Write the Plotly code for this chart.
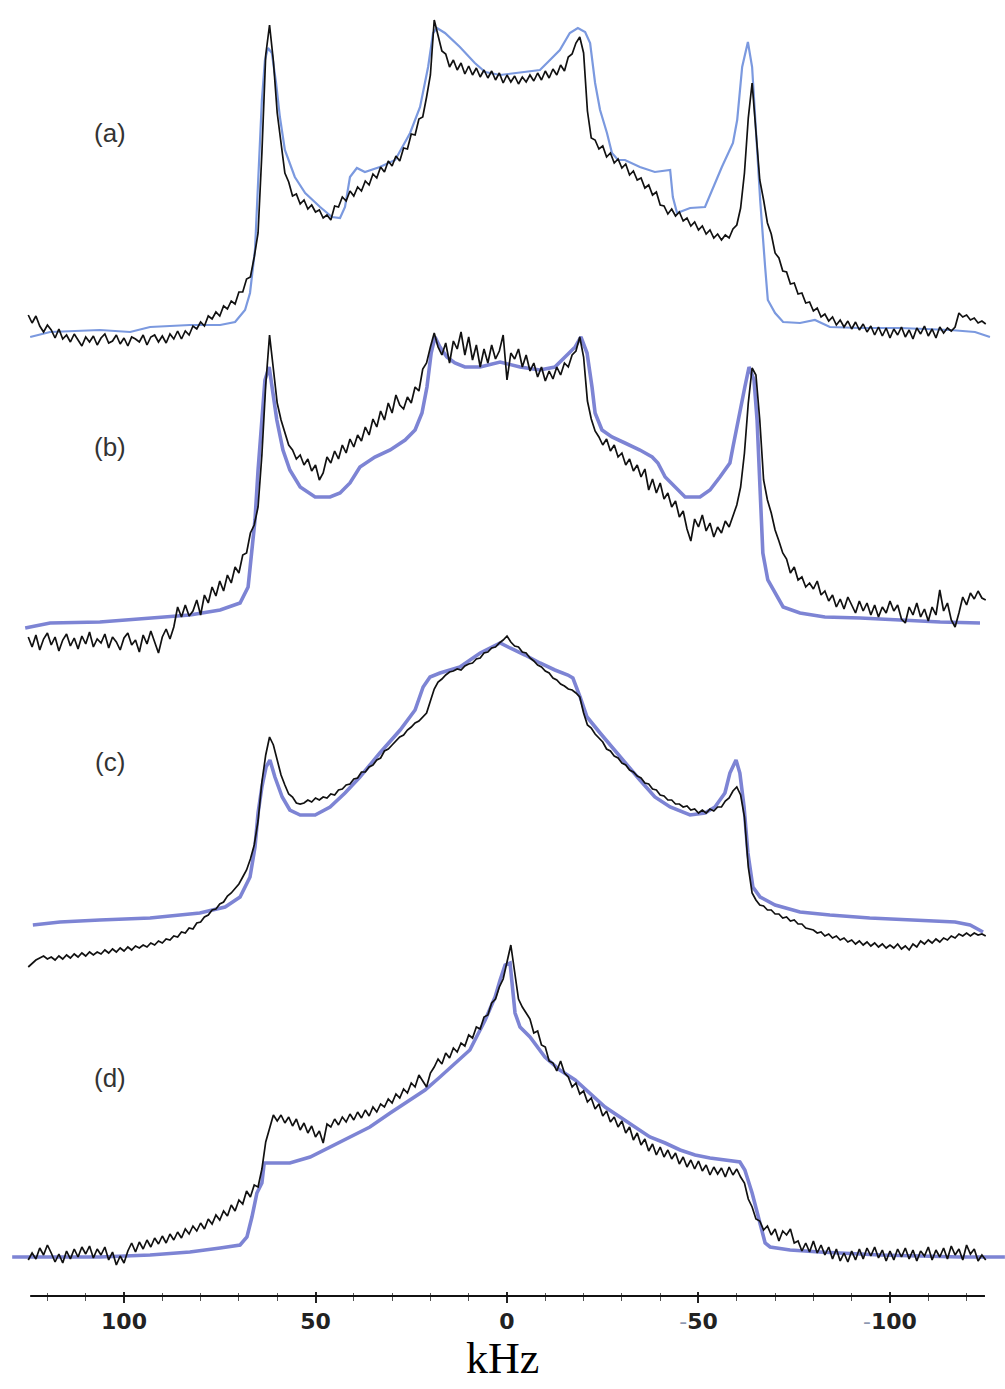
import numpy as np
import plotly.graph_objects as go

# Frequency grid of the experimental spectra (kHz, 1 kHz steps, high -> low)
khz_grid = np.arange(125, -126, -1)

# Experimental 2H spectra (arbitrary intensity units, one value per grid point)
exp_a = [18, 10, 17, 7, 1, 8, 3, -5, 4, -6, -2, -9, -1, -7, -13, -4, -9, -3, -12, -5, -1, -10, -8, -2, -11, -5, -13, -4, -6, -9, -2, -12, -4,
         -2, -9, -3, -10, -1, -6, 2, -6, 2, -2, 7, 4, 11, 7, 17, 14, 21, 17, 27, 24, 32, 29, 41, 41, 54, 56, 76,
         100, 180, 278, 308, 272, 220, 190, 160, 151, 137, 139, 129, 133, 124, 128, 121, 123, 115, 118, 113, 127, 126, 136, 132, 142, 137,
         146, 142, 152, 148, 159, 155, 166, 161, 172, 167, 177, 172, 185, 184, 199, 198, 214, 216, 236, 258,
         313, 296, 282, 279, 266, 273, 263, 270, 259, 267, 258, 265, 256, 263, 255, 262, 253, 260, 250, 258, 251, 257, 249, 256, 251, 258,
         252, 260, 253, 262, 255, 264, 258, 268, 262, 276, 279, 290, 296, 280,
         222, 195, 193, 184, 187, 176, 180, 170, 174, 165, 169, 158, 162, 153, 155, 145, 148, 138, 141, 128, 127, 119, 124, 117, 121, 112,
         115, 107, 111, 103, 107, 99, 103, 95, 99, 93, 98, 95, 104, 108,
         125, 160, 215, 250, 200, 153, 133, 110, 99, 80, 75, 62, 61, 49, 50, 39, 40, 30, 31, 22, 25, 16, 19, 12, 16, 8, 13, 6, 12, 4, 11, 3,
         9, 1, 7, -2, 6, -3, 5, -5,
         4, -2, 6, -4, 3, -6, 5, -1, 7, -3, 4, -5, 6, 0, 5, 2, 6, 20, 16, 18, 13, 15, 10, 12, 9]

exp_b = [-12, -22, -10, -25, -14, -8, -20, -12, -26, -15, -9, -21, -13, -24, -11, -19, -7, -22, -14, -18, -9, -23, -12, -17, -25, -13,
         -8, -20, -15, -27, -10, -19, -6, -16, -28, -12, -4, -14, -2,
         18, 8, 20, 9, 14, 25, 10, 30, 22, 38, 29, 44, 34, 50, 42, 58, 52, 70, 72, 92, 100, 118, 170, 240, 290, 258, 222, 205, 192, 180,
         175, 166, 170, 160, 166, 154, 160, 145, 152, 168, 162, 174, 166, 180, 172, 186, 178, 190, 184, 198, 190, 206, 198, 214, 205, 222,
         212, 230, 220, 216, 228, 222, 238, 234, 256, 262, 278,
         292, 278, 270, 282, 262, 284, 276, 293, 270, 288, 265, 280, 258, 276, 262, 280, 266, 274, 290, 245, 272, 266, 276, 258, 270, 254,
         262, 248, 258, 244, 254, 246, 258, 250, 262, 258, 270, 274, 288, 268,
         224, 206, 194, 188, 180, 186, 174, 180, 168, 172, 160, 166, 154, 160, 148, 156, 135, 146, 132, 142, 126, 132, 118, 124, 108, 114,
         96, 84, 106, 98, 110, 94, 102, 88, 98, 92, 104, 98, 110, 120,
         138, 172, 222, 257, 250, 205, 145, 125, 112, 95, 84, 72, 66, 52, 58, 45, 48, 38, 42, 36, 44, 30, 34, 24, 30, 18, 26, 16, 28, 20,
         12, 24, 14, 22, 10, 20, 8, 18, 12, 24,
         14, 20, 6, 2, 18, 10, 22, 8, 16, 4, 18, 10, 35, 14, 22, 5, -2, 12, 28, 20, 32, 26, 34, 27, 25]

exp_c = [-42, -38, -35, -33, -31, -34, -32, -35, -31, -34, -30, -33, -29, -32, -28, -31, -27, -30, -27, -29, -25, -28, -24, -27, -23,
         -26, -22, -25, -21, -23, -20, -22, -18,
         -20, -16, -18, -14, -15, -11, -12, -7, -8, -3, -4, 2, 3, 8, 10, 15, 16, 21, 23, 29, 32, 37, 41, 48, 55, 66, 80, 104, 143, 170,
         188, 180,
         165, 150, 140, 131, 128, 122, 121, 122, 125, 123, 127, 125, 128, 127, 131, 130, 135, 136, 140, 141, 146, 147, 153, 153, 158, 160,
         165, 167, 174, 176, 180, 184, 188, 190, 195, 198, 202, 204, 208, 212,
         224, 236, 243, 246, 250, 253, 254, 256, 255, 259, 261, 262, 266, 267, 272, 273, 277, 278, 282, 285, 289, 283, 279, 278, 273, 272,
         267, 264, 260, 258, 254, 252, 247, 245, 241, 239, 236, 235, 232, 228,
         212, 200, 197, 191, 187, 183, 176, 174, 169, 167, 162, 160, 155, 153, 149, 147, 142, 141, 136, 135, 130, 129, 125, 125, 121, 121,
         118, 119, 115, 116, 112, 115, 112, 116, 114, 118, 118, 124, 127, 134,
         138, 130, 108, 58, 32, 25, 20, 19, 15, 15, 11, 11, 7, 8, 4, 5, 1, 1, -3, -4, -5, -8, -7, -11, -9, -13, -11, -15, -13, -17, -15,
         -19, -16, -20, -17, -21, -18, -22, -19, -23,
         -20, -23, -19, -24, -21, -25, -19, -22, -16, -19, -15, -18, -14, -17, -13, -15, -11, -13, -9, -11, -8, -11, -8, -10, -9, -11]

exp_d = [-3, 4, -2, 9, 2, 12, 4, -5, 3, -6, 6, -2, 8, 0, 10, 3, 11, -1, 8, 2, 10, -3, 5, -8, 1, -6, 6, 14, 5, 15, 8, 17, 10,
         19, 13, 21, 14, 23, 17, 25, 19, 28, 23, 31, 26, 34, 28, 38, 33, 42, 37, 46, 41, 52, 46, 57, 53, 66, 60, 72, 70, 88, 115, 130,
         142,
         136, 142, 134, 140, 131, 138, 127, 134, 124, 131, 120, 126, 114, 133, 130, 138, 132, 140, 135, 143, 137, 145, 139, 147, 141, 150,
         145, 153, 150, 158, 154, 163, 159, 168, 164, 174, 170, 182, 176, 170,
         184, 190, 198, 193, 204, 199, 209, 205, 214, 211, 222, 219, 230, 228, 240, 242, 254, 258, 270, 278, 295, 312, 285, 258, 250, 244,
         238, 224, 226, 212, 210, 196, 194, 186, 196, 184, 180, 170, 174, 163,
         166, 155, 159, 148, 153, 141, 146, 135, 140, 130, 136, 124, 130, 117, 124, 112, 118, 106, 113, 102, 110, 100, 107, 98, 104, 93,
         100, 90, 97, 88, 96, 86, 92, 82, 90, 83, 89, 80, 90, 82,
         88, 80, 74, 58, 50, 38, 36, 27, 31, 22, 28, 16, 26, 22, 28, 14, 16, 6, 14, 5, 16, 4, 12, 2, 10, -2, 8, -4, 4, -5, 6, -3, 8, -2,
         9, 1, 10, -1, 7, -4,
         6, -3, 8, 0, 9, -2, 7, -4, 6, 1, 10, -3, 7, 0, 9, -2, 11, 2, 8, -3, 12, 3, 8, -4, 2, -3]

# Simulated line shapes (kHz, intensity)
sim_a_khz = [124.5, 119.3, 106.3, 98.4, 93.2, 82.8, 74.9, 71.0, 68.4, 67.1, 65.8, 64.8, 64.0, 63.2, 62.4, 61.4, 60.3, 59.3, 58.0,
             55.4, 52.7, 48.8, 45.7, 43.6, 42.3, 41.0, 39.2, 37.1, 33.2, 29.2, 25.3, 22.7, 20.6, 19.3, 18.3, 16.2, 12.3, 8.4, 5.7,
             1.8, -4.7, -8.6, -10.7, -13.8, -16.4, -18.5, -20.4, -21.7, -23.0, -24.3, -26.1, -27.4, -29.0, -30.8, -34.7, -38.6,
             -42.6, -43.3, -44.4, -47.8, -51.7, -53.5, -56.1, -59.0, -60.1, -61.4, -62.9, -64.0, -65.0, -66.1, -67.4, -68.1,
             -70.0, -72.1, -76.5, -80.4, -84.3, -92.2, -102.6, -115.7, -122.2, -126.1]
sim_a = [-4, 1, 3, 1, 6, 8, 8, 11, 23, 40, 83, 166, 233, 273, 285, 280, 250, 216, 183,
         156, 140, 126, 116, 115, 126, 156, 165, 161, 166, 173, 200, 226, 266, 300, 305, 300, 286, 270, 261,
         258, 261, 263, 271, 283, 300, 305, 301, 290, 250, 223, 200, 180, 173, 173, 166, 161,
         163, 136, 120, 125, 126, 143, 166, 190, 213, 266, 291, 266, 200, 133, 66, 33,
         20, 11, 10, 13, 6, 5, 5, 3, 1, -4]

sim_b_khz = [125.8, 119.3, 106.3, 93.2, 82.8, 74.9, 69.7, 67.6, 66.6, 65.8, 65.0, 64.0, 63.2, 62.1, 61.1, 60.1, 58.5, 56.7, 54.0,
             50.1, 46.2, 43.6, 41.0, 38.4, 34.5, 30.5, 26.6, 24.0, 22.2, 20.9, 19.8, 18.8, 17.5, 15.7, 13.6, 11.0, 7.0, 1.8,
             -3.4, -8.6, -12.5, -15.1, -17.8, -19.3, -20.9, -22.2, -23.0, -24.8, -27.4, -30.8, -34.7, -37.9, -39.4, -41.3,
             -43.9, -46.5, -50.4, -53.0, -55.6, -58.2, -59.0, -60.3, -62.1, -63.2, -64.5, -65.3, -66.1, -66.8, -68.1, -70.0,
             -72.1, -76.5, -83.0, -92.2, -102.6, -113.1, -123.5]
sim_b = [-3, 2, 3, 7, 10, 15, 22, 38, 78, 105, 155, 205, 245, 258, 232, 205, 175, 155, 138,
         128, 128, 132, 142, 158, 168, 175, 185, 195, 212, 238, 272, 288, 278, 268, 262, 258, 258, 263,
         258, 255, 258, 268, 278, 288, 272, 238, 212, 195, 188, 182, 175, 168, 162, 148,
         138, 128, 128, 135, 148, 162, 178, 205, 238, 258, 245, 205, 138, 72, 45, 32,
         18, 12, 8, 7, 5, 3, 2]

sim_c_khz = [123.8, 116.7, 106.3, 93.2, 80.2, 73.6, 69.7, 67.1, 65.8, 65.0, 64.0, 62.9, 61.9, 60.6, 58.7, 56.7, 54.0, 50.1, 46.2,
             42.3, 38.4, 33.2, 27.9, 24.0, 21.9, 20.1, 17.5, 12.3, 7.0, 1.8, -0.8, -4.7, -8.6, -12.5, -15.9, -17.2, -19.1,
             -20.9, -24.3, -29.5, -34.7, -38.6, -42.6, -47.8, -51.7, -54.3, -56.9, -58.2, -59.8, -60.8, -61.9, -62.9, -64.2,
             -66.1, -70.0, -76.5, -84.3, -94.7, -107.8, -117.0, -120.9, -124.3]
sim_c = [0, 3, 5, 7, 12, 18, 28, 48, 78, 112, 138, 158, 165, 148, 128, 115, 110, 110, 118,
         132, 148, 172, 195, 215, 238, 248, 252, 258, 272, 282, 277, 270, 262, 255, 250, 247, 228,
         208, 192, 168, 145, 128, 118, 110, 112, 118, 132, 152, 165, 152, 118, 72, 38,
         28, 20, 13, 10, 7, 5, 3, 0, -7]

sim_d_khz = [129.2, 119.3, 106.3, 93.2, 82.8, 74.9, 69.7, 67.9, 66.6, 65.3, 64.0, 63.4, 61.9, 56.7, 51.4, 46.2, 41.0, 35.8, 30.5,
             25.3, 21.4, 17.5, 13.6, 9.7, 5.7, 3.1, 1.8, 0.5, -0.8, -1.6, -2.1, -3.4, -6.0, -9.9, -13.8, -17.8, -21.7, -25.6,
             -29.5, -33.4, -37.3, -41.3, -45.2, -49.1, -53.0, -60.8, -62.1, -64.0, -66.1, -67.4, -68.7, -73.9, -81.7, -97.4,
             -118.3, -130.0]
sim_d = [0, 0, 0, 2, 5, 9, 12, 20, 40, 64, 74, 94, 94, 94, 100, 110, 120, 130, 144,
         157, 167, 180, 194, 207, 237, 260, 277, 292, 294, 267, 244, 230, 220, 200, 187, 177, 164, 150,
         140, 130, 120, 114, 107, 102, 99, 95, 87, 64, 34, 14, 10, 7, 5, 2,
         0, 0]

panel_labels = ["(a)", "(b)", "(c)", "(d)"]
major_ticks = [100, 50, 0, -50, -100]
minor_ticks = [120, 110, 90, 80, 70, 60, 40, 30, 20, 10, -10, -20, -30, -40, -60, -70, -80, -90, -110, -120]

# vertical stacking of the four spectra
offsets = [963, 671, 371, 39]
label_heights = [1163, 849, 534, 218]

BLACK = "#111111"
SIM_COLORS = ["#7b99df", "#7d84d4", "#7d84d4", "#7d84d4"]
SIM_WIDTHS = [2.2, 3.6, 3.6, 3.6]

experimental = [exp_a, exp_b, exp_c, exp_d]
simulated = [(sim_a_khz, sim_a), (sim_b_khz, sim_b), (sim_c_khz, sim_c), (sim_d_khz, sim_d)]

fig = go.Figure()

for i in range(4):
    sx, sy = simulated[i]
    fig.add_trace(go.Scatter(
        x=sx, y=np.asarray(sy, dtype=float) + offsets[i], mode="lines",
        line=dict(color=SIM_COLORS[i], width=SIM_WIDTHS[i]),
        showlegend=False, hoverinfo="skip", cliponaxis=False))
    fig.add_trace(go.Scatter(
        x=khz_grid, y=np.asarray(experimental[i], dtype=float) + offsets[i], mode="lines",
        line=dict(color=BLACK, width=1.7),
        showlegend=False, hoverinfo="skip", cliponaxis=False))

tick_text = []
for v in major_ticks:
    if v < 0:
        tick_text.append('<span style="color:#8e98b0">-</span><b>%d</b>' % abs(v))
    else:
        tick_text.append("<b>%d</b>" % v)

x_range = [132.38, -130.03]

fig.update_layout(
    width=1005, height=1389,
    margin=dict(l=0, r=0, t=0, b=93),
    paper_bgcolor="white", plot_bgcolor="white",
    xaxis=dict(
        range=x_range, showgrid=False, zeroline=False, showline=False,
        tickmode="array", tickvals=major_ticks, ticktext=tick_text,
        ticks="outside", ticklen=6, tickwidth=1.5, tickcolor="#222",
        tickfont=dict(family="DejaVu Sans", size=22, color="#222"),
        minor=dict(tickvals=minor_ticks, ticks="outside", ticklen=4, tickwidth=1, tickcolor="#555"),
    ),
    xaxis2=dict(
        range=x_range, overlaying="x", side="bottom", anchor="y",
        showgrid=False, zeroline=False, showline=False, showticklabels=False,
        tickmode="array", tickvals=major_ticks,
        ticks="inside", ticklen=4, tickwidth=1.5, tickcolor="#222",
        minor=dict(tickvals=minor_ticks, ticks="inside", ticklen=3, tickwidth=1, tickcolor="#555"),
    ),
    yaxis=dict(range=[0, 1296], visible=False),
)

# invisible trace so the overlay axis is drawn
fig.add_trace(go.Scatter(x=[0], y=[-100], xaxis="x2", mode="markers",
                         marker=dict(opacity=0), showlegend=False, hoverinfo="skip"))

# frequency axis line
fig.add_shape(type="line", xref="x", yref="paper", x0=124.5, x1=-124.8, y0=0, y1=0,
              line=dict(color="#111", width=2))

for lab, h in zip(panel_labels, label_heights):
    fig.add_annotation(x=103.6, y=h, xref="x", yref="y", text=lab, showarrow=False,
                       font=dict(family="Liberation Sans", size=26, color="#333"),
                       xanchor="center", yanchor="middle")

fig.add_annotation(x=0.5, y=-62 / 1296, xref="paper", yref="paper", text="kHz", showarrow=False,
                   font=dict(family="Liberation Serif", size=44, color="#000"),
                   xanchor="center", yanchor="middle")

fig.write_html("out.html")
